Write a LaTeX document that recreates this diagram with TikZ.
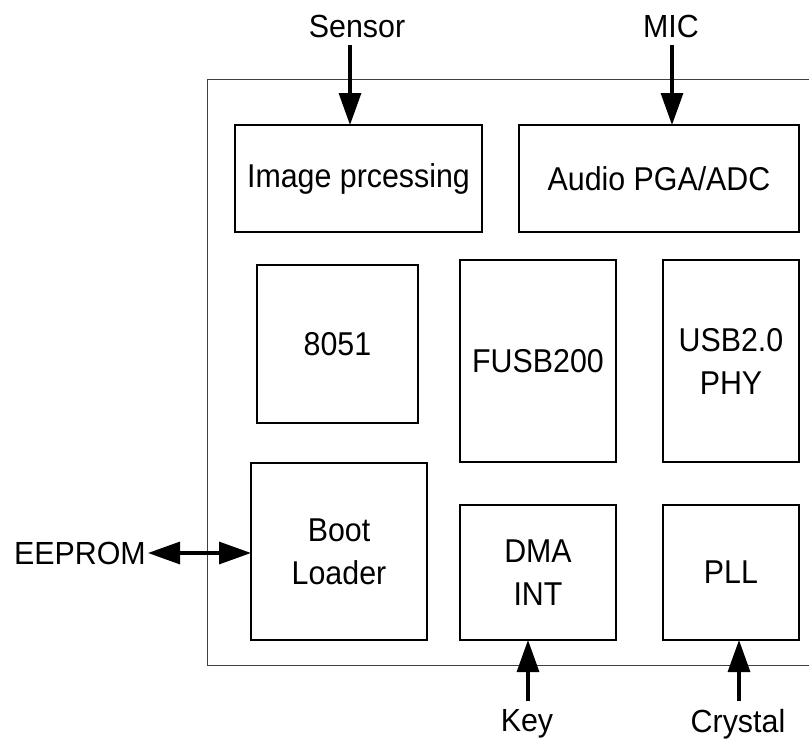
\documentclass[tikz,border=0pt]{standalone}
\usepackage{fontspec}
\setmainfont{Liberation Sans}
\newfontfamily\blkfont[FakeStretch=0.92]{Liberation Sans}
\newfontfamily\lblfont[FakeStretch=0.95]{Liberation Sans}
\usetikzlibrary{arrows.meta}
\begin{document}
\begin{tikzpicture}[x=1pt,y=-1pt,
  blk/.style={draw=black,line width=1.2pt,inner sep=0pt,outer sep=0pt,align=center,
    font=\blkfont\fontsize{33}{43}\selectfont},
  lbl/.style={inner sep=0pt,font=\lblfont\fontsize{32}{36}\selectfont},
  arr/.style={line width=3.2pt,-{Triangle[width=22pt,length=32pt]}},
  darr/.style={line width=3.2pt,{Triangle[width=22pt,length=32pt]}-{Triangle[width=22pt,length=32pt]}}]
\useasboundingbox (0,0) rectangle (809,747);
% outer chip outline (open on the right)
\draw[line width=1pt,draw=black!75] (809,79) -- (207,79) -- (207,665) -- (809,665);
% blocks
\node[blk,minimum width=247pt,minimum height=107pt] (img) at (358.5,178.5) {Image prcessing};
\node[blk,minimum width=280pt,minimum height=107pt] (aud) at (659,178.5) {Audio PGA/ADC};
\node[blk,minimum width=161pt,minimum height=158pt] (cpu) at (337.5,344) {8051};
\node[blk,minimum width=156pt,minimum height=202pt] (fusb) at (538,361) {FUSB200};
\node[blk,minimum width=136pt,minimum height=202pt] (phy) at (731,361) {USB2.0\\PHY};
\node[blk,minimum width=176pt,minimum height=177pt] (boot) at (339,551.5) {Boot\\Loader};
\node[blk,minimum width=156pt,minimum height=135pt] (dma) at (538,572.5) {DMA\\INT};
\node[blk,minimum width=136pt,minimum height=135pt] (pll) at (731,572.5) {PLL};
% external labels
\node[lbl] (sensor) at (357,26) {Sensor};
\node[lbl] (mic) at (671,26) {MIC};
\node[lbl] (key) at (527,724) {Key};
\node[lbl] (crystal) at (738,724) {Crystal};
\node[lbl,anchor=east] (eeprom) at (146,553) {EEPROM};
% connector ends
\coordinate (sensorin) at (350,45);
\coordinate (micin) at (672,45);
\coordinate (keyin) at (528,701);
\coordinate (crysin) at (739,701);
% connectors
\draw[arr] (sensorin) -- (sensorin |- img.north);
\draw[arr] (micin) -- (micin |- aud.north);
\draw[arr] (keyin) -- (keyin |- dma.south);
\draw[arr] (crysin) -- (crysin |- pll.south);
\draw[darr] ([xshift=2pt]eeprom.east) -- (boot.west |- eeprom.east);
\end{tikzpicture}
\end{document}
